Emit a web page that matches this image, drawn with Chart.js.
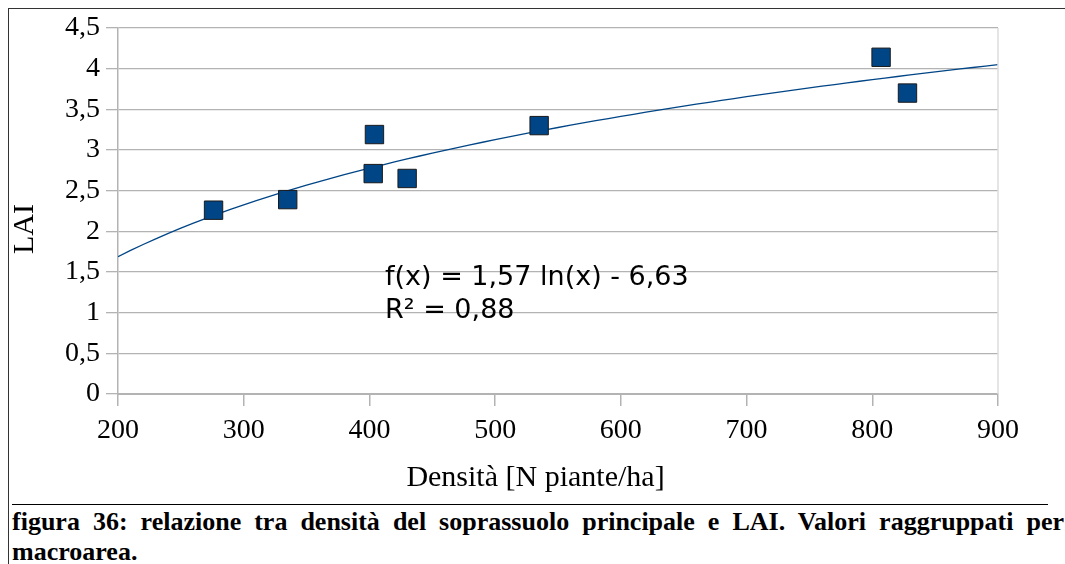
<!DOCTYPE html>
<html>
<head>
<meta charset="utf-8">
<script src="https://cdn.jsdelivr.net/npm/chart.js@4"></script>
<style>
  html, body { margin: 0; padding: 0; background: #fff; }
  body { width: 1065px; height: 564px; position: relative; overflow: hidden; }
  #frame {
    position: absolute; left: 8px; top: 8px; width: 1070px; height: 600px;
    border-left: 1.5px solid #333; border-top: 1.5px solid #333;
  }
  #chartBox { position: absolute; left: 0; top: 0; width: 1065px; height: 500px; }
  #equation {
    position: absolute; left: 385px; top: 259px;
    font-family: "DejaVu Sans", sans-serif; font-size: 27px; line-height: 33px;
    color: #000; white-space: pre;
  }
  #rule { position: absolute; left: 12px; top: 504px; width: 1036px; height: 0; border-top: 1.5px solid #000; }
  #caption {
    position: absolute; left: 12px; top: 507px; width: 1052px;
    font-family: "Liberation Serif", "Times New Roman", serif; font-weight: bold;
    font-size: 26px; line-height: 30px; text-align: justify; color: #000;
  }
</style>
</head>
<body>
<div id="frame"></div>
<div id="chartBox"><canvas id="laiChart"></canvas></div>
<div id="equation">f(x) = 1,57 ln(x) - 6,63
R² = 0,88</div>
<div id="rule"></div>
<div id="caption">figura 36: relazione tra densità del soprassuolo principale e LAI. Valori raggruppati per macroarea.</div>

<script>
// values
const densita = [276, 335, 404, 403, 430, 535, 807, 828];
const lai = [2.26, 2.39, 3.19, 2.71, 2.65, 3.30, 4.14, 3.70];
const xTicks = [200, 300, 400, 500, 600, 700, 800, 900];
const yTicks = [0, 0.5, 1, 1.5, 2, 2.5, 3, 3.5, 4, 4.5];

// logarithmic trend line as printed on the chart: f(x) = 1,57 ln(x) - 6,63
const trendA = 1.57;
const trendB = -6.63;
const trendX = [];
for (let x = 200; x <= 900; x += 10) trendX.push(x);

const blue = '#004586';
const gridGrey = '#b3b3b3';
const serif = '"Liberation Serif", "Times New Roman", serif';

// light border on the right side of the plot
const rightEdge = {
    id: 'rightEdge',
    afterDraw(chart) {
        const a = chart.chartArea;
        const ctx = chart.ctx;
        ctx.save();
        ctx.strokeStyle = '#dddddd';
        ctx.lineWidth = 1.5;
        ctx.beginPath();
        ctx.moveTo(a.right, a.top);
        ctx.lineTo(a.right, a.bottom);
        ctx.stroke();
        ctx.restore();
    }
};

const ctx = document.getElementById('laiChart').getContext('2d');
new Chart(ctx, {
    type: 'scatter',
    data: {
        datasets: [
            {
                label: 'LAI',
                data: densita.map((d, i) => ({ x: d, y: lai[i] })),
                pointStyle: 'rect',
                pointRadius: 13,
                pointHoverRadius: 13,
                backgroundColor: blue,
                borderColor: '#1a1a1a',
                borderWidth: 1,
                order: 1
            },
            {
                label: 'trend',
                type: 'line',
                data: trendX.map(x => ({ x: x, y: trendA * Math.log(x) + trendB })),
                borderColor: blue,
                borderWidth: 1.3,
                pointRadius: 0,
                fill: false,
                order: 2
            }
        ]
    },
    options: {
        responsive: true,
        maintainAspectRatio: false,
        animation: false,
        layout: { padding: { left: 7, right: 67, top: 28, bottom: 4 } },
        plugins: {
            legend: { display: false },
            tooltip: { enabled: false }
        },
        scales: {
            x: {
                type: 'linear',
                min: 200,
                max: 900,
                afterBuildTicks: s => { s.ticks = xTicks.map(v => ({ value: v })); },
                afterFit: s => { s.height = 102; },
                ticks: {
                    color: '#000',
                    padding: 8,
                    font: { family: serif, size: 28 },
                    callback: v => String(v)
                },
                grid: { drawOnChartArea: false, tickLength: 12, color: gridGrey, lineWidth: 1.5 },
                border: { color: gridGrey, width: 2 },
                title: {
                    display: true,
                    // trailing spaces move the centred title a little to the left, as in the original
                    text: 'Densità [N piante/ha]\u2002\u2002\u2002',
                    color: '#000',
                    padding: 0,
                    font: { family: serif, size: 30 }
                }
            },
            y: {
                min: 0,
                max: 4.5,
                afterBuildTicks: s => { s.ticks = yTicks.map(v => ({ value: v })); },
                afterFit: s => { s.width = 111; },
                ticks: {
                    color: '#000',
                    padding: 6,
                    font: { family: serif, size: 28 },
                    callback: v => String(v).replace('.', ',')
                },
                grid: { color: gridGrey, lineWidth: 1.3, tickLength: 12 },
                border: { color: gridGrey, width: 1.5 },
                title: {
                    display: true,
                    text: 'LAI\u2002\u2002\u2009',
                    color: '#000',
                    padding: 0,
                    font: { family: serif, size: 30 }
                }
            }
        }
    },
    plugins: [rightEdge]
});
</script>
</body>
</html>
